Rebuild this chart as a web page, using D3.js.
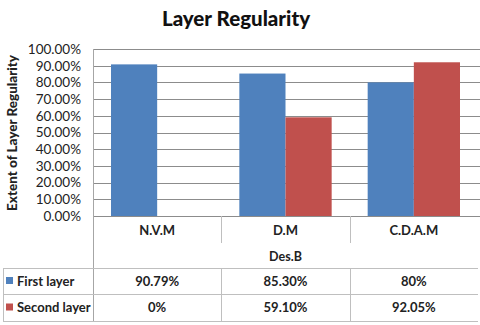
<!DOCTYPE html>
<html><head><meta charset="utf-8">
<script src="https://cdn.jsdelivr.net/npm/d3@7"></script>
<style>body{margin:0;background:#fff}svg{display:block}</style>
</head><body><svg id="c" width="480" height="325"></svg>
<script>
const categories = ["N.V.M", "D.M", "C.D.A.M"];
const seriesNames = ["First layer", "Second layer"];
const firstLayer = [0.9079, 0.853, 0.80];
const secondLayer = [0, 0.591, 0.9205];
const firstLabels = ["90.79%", "85.30%", "80%"];
const secondLabels = ["0%", "59.10%", "92.05%"];
const yTicks = [0, 0.1, 0.2, 0.3, 0.4, 0.5, 0.6, 0.7, 0.8, 0.9, 1.0];
const colors = ["#4F81BD", "#C0504D"];
const font = "Lato, 'Open Sans', sans-serif";

const svg = d3.select("#c");
const L = 93, R = 478, T = 49, B = 216;
const x = d3.scaleBand().domain(categories).range([L, R]).paddingInner(0).paddingOuter(0);
const x1 = d3.scaleBand().domain(seriesNames).range([0, x.bandwidth()]).paddingInner(0).paddingOuter(0.39);
const y = d3.scaleLinear().domain([0, 1]).range([B, T]);

svg.append("text").attr("x", 236).attr("y", 26).attr("text-anchor", "middle")
  .attr("font-family", font).attr("font-weight", "900").attr("font-size", 20.5).attr("fill", "#111")
  .text("Layer Regularity");

// gridlines
svg.append("g").selectAll("line").data(yTicks).join("line")
  .attr("x1", L).attr("x2", 480).attr("y1", d => Math.round(y(d)) + 0.5).attr("y2", d => Math.round(y(d)) + 0.5)
  .attr("stroke", "#8c8c8c").attr("stroke-width", 1);

// y axis labels
const yAxis = d3.axisLeft(y).tickValues(yTicks).tickFormat(d => (d * 100).toFixed(2) + "%").tickSize(0).tickPadding(12);
const ga = svg.append("g").attr("transform", `translate(${L},0)`).call(yAxis);
ga.select(".domain").remove();
ga.selectAll("text").attr("font-family", font).attr("font-size", 13.5).attr("fill", "#222");

svg.append("text").attr("transform", `translate(17,133) rotate(-90)`).attr("text-anchor", "middle")
  .attr("font-family", font).attr("font-weight", "900").attr("font-size", 13.5).attr("fill", "#222")
  .text("Extent of Layer Regularity");

// bars
const data = categories.map((c, i) => ({c, vals: [firstLayer[i], secondLayer[i]]}));
const gb = svg.append("g");
data.forEach(d => {
  d.vals.forEach((v, j) => {
    gb.append("rect").attr("x", x(d.c) + x1(seriesNames[j])).attr("width", x1.bandwidth())
      .attr("y", y(v)).attr("height", B - y(v)).attr("fill", colors[j]);
  });
});

// table
const tl = "#bfbfbf";
const tg = svg.append("g");
tg.append("line").attr("x1", L + 0.5).attr("x2", L + 0.5).attr("y1", T).attr("y2", 321).attr("stroke", "#a6a6a6");
const rowY = [268, 294, 321];
rowY.forEach(yy => tg.append("line").attr("x1", 3).attr("x2", R).attr("y1", yy + 0.5).attr("y2", yy + 0.5).attr("stroke", tl));
tg.append("line").attr("x1", 3.5).attr("x2", 3.5).attr("y1", 268).attr("y2", 321).attr("stroke", tl);
categories.slice(1).forEach(c => {
  tg.append("line").attr("x1", Math.round(x(c)) + 0.5).attr("x2", Math.round(x(c)) + 0.5).attr("y1", B).attr("y2", 243).attr("stroke", tl);
  tg.append("line").attr("x1", Math.round(x(c)) + 0.5).attr("x2", Math.round(x(c)) + 0.5).attr("y1", 268).attr("y2", 321).attr("stroke", tl);
});
tg.selectAll("text.cat").data(categories).join("text").attr("class", "cat")
  .attr("x", d => x(d) + x.bandwidth() / 2).attr("y", 235).attr("text-anchor", "middle")
  .attr("font-family", font).attr("font-weight", "bold").attr("font-size", 13).attr("fill", "#222").text(d => d);
tg.append("text").attr("x", x("D.M") + x.bandwidth() / 2).attr("y", 261).attr("text-anchor", "middle")
  .attr("font-family", font).attr("font-weight", "bold").attr("font-size", 12.5).attr("fill", "#222").text("Des.B");

const rows = [firstLabels, secondLabels];
rows.forEach((labels, j) => {
  const cy = (rowY[j] + rowY[j + 1]) / 2;
  tg.append("rect").attr("x", 6).attr("y", cy - 4).attr("width", 7).attr("height", 7).attr("fill", colors[j]);
  tg.append("text").attr("x", 17).attr("y", cy + 4.5).attr("font-family", font).attr("font-weight", "bold")
    .attr("font-size", 13).attr("fill", "#222").text(seriesNames[j]);
  labels.forEach((t, i) => {
    tg.append("text").attr("x", x(categories[i]) + x.bandwidth() / 2).attr("y", cy + 4.5).attr("text-anchor", "middle")
      .attr("font-family", font).attr("font-weight", "bold").attr("font-size", 13).attr("fill", "#222").text(t);
  });
});
</script></body></html>
